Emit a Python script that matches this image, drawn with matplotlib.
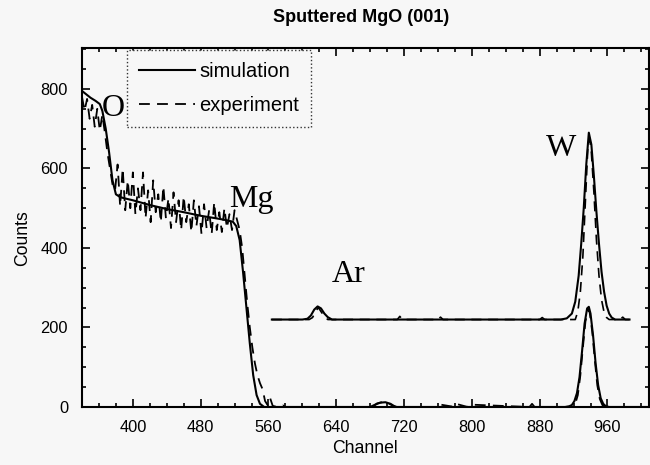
import matplotlib
matplotlib.use("Agg")
import matplotlib.pyplot as plt
from matplotlib.ticker import MultipleLocator

# ---------------- data ----------------
sim_ch = [340, 350, 356, 361, 364, 368, 372, 376, 380, 385, 390, 400, 420, 440, 460,
          480, 500, 510, 518, 522, 526, 530, 534, 538, 542, 546, 550, 555,
          600, 680, 686, 692, 698, 704, 710, 760, 910, 915, 918, 921, 924, 927,
          930, 933, 936, 938, 940, 943, 946, 949, 952, 955, 958, 962, 1009]
sim_counts = [795, 778, 770, 762, 745, 700, 640, 570, 535, 528, 525, 520, 508, 498, 490,
              481, 474, 470, 466, 455, 420, 340, 250, 160, 80, 30, 8, 0,
              0, 0, 6, 11, 12, 8, 0, 0, 0, 2, 5, 15, 35, 75,
              140, 210, 248, 252, 235, 180, 110, 55, 22, 8, 2, 0, 0]

exp_ch = [340, 343, 346, 349, 352, 355, 358, 361, 364, 367, 370, 373, 376, 379, 382,
          385, 388, 391, 394, 397, 400, 403, 406, 409, 412, 415, 418, 421, 424, 427,
          430, 433, 436, 439, 442, 445, 448, 451, 454, 457, 460, 463, 466, 469, 472,
          475, 478, 481, 484, 487, 490, 493, 496, 499, 502, 505, 508, 511, 514, 517,
          520, 523, 526, 529, 532, 535, 538, 541, 544, 547, 550, 553, 556, 559, 562,
          565, 570, 577, 580, 640, 683, 688, 694, 700, 707, 712, 760, 763, 780, 783,
          795, 798, 868, 871, 874, 915, 919, 922, 925, 928, 931, 934, 937, 939, 942,
          945, 948, 951, 954, 957, 1009]
exp_counts = [780, 745, 775, 725, 760, 705, 750, 695, 735, 690, 640, 600, 560, 545, 610,
              505, 600, 495, 570, 500, 590, 485, 550, 495, 590, 475, 545, 465, 570, 490,
              535, 465, 555, 475, 525, 450, 540, 465, 520, 445, 530, 465, 510, 440, 520,
              455, 505, 435, 510, 450, 495, 435, 515, 445, 490, 440, 500, 450, 485, 445,
              495, 470, 445, 400, 330, 260, 200, 150, 110, 80, 60, 45, 15, 5, 22,
              3, 0, 4, 0, 0, 0, 9, 12, 11, 3, 0, 0, 6, 0, 7,
              0, 6, 0, 8, 0, 0, 0, 8, 30, 80, 150, 215, 245, 238, 190,
              120, 55, 20, 5, 0, 0]

# offset (inset) spectrum, counts above its own baseline
ins_sim_ch = [564, 600, 606, 610, 614, 618, 622, 626, 630, 635, 905, 912, 918, 922,
              926, 929, 932, 935, 938, 941, 944, 947, 950, 953, 956, 959, 962, 965,
              969, 986]
ins_sim_counts = [0, 0, 2, 10, 25, 33, 28, 15, 6, 0, 0, 3, 15, 45,
                  110, 190, 280, 390, 470, 440, 360, 270, 190, 120, 70, 35, 15, 5,
                  0, 0]
ins_exp_ch = [564, 608, 612, 616, 619, 622, 626, 630, 700, 712, 715, 718, 760, 763,
              766, 880, 883, 886, 922, 925, 928, 931, 934, 937, 939, 941, 944, 947,
              950, 953, 956, 959, 962, 975, 978, 981, 986]
ins_exp_counts = [0, 0, 5, 22, 30, 20, 8, 0, 0, 0, 8, 0, 0, 6,
                  0, 0, 5, 0, 0, 20, 70, 160, 300, 440, 455, 420, 320, 200,
                  110, 50, 18, 5, 0, 0, 6, 0, 0]
ins_baseline = 220

x_ticks = [400, 480, 560, 640, 720, 800, 880, 960]
y_ticks = [0, 200, 400, 600, 800]
peak_labels = ["O", "Mg", "Ar", "W"]
peak_label_pos = [(377, 752), (540, 522), (655, 333), (905, 650)]

# ---------------- figure ----------------
bg = "#f7f7f7"
fig = plt.figure(figsize=(6.5, 4.65), dpi=100, facecolor=bg)
ax = fig.add_axes([82 / 650, 1 - 407 / 465, 567 / 650, 359 / 465], facecolor=bg)

sans = "Liberation Sans"
serif = "Liberation Serif"
dash = (6, 4)

ax.plot(sim_ch, sim_counts, color="black", lw=1.5, label="simulation")
ax.plot(exp_ch, exp_counts, color="black", lw=1.3, ls=(0, dash), label="experiment")

ax.plot(ins_sim_ch, [c + ins_baseline for c in ins_sim_counts], color="black", lw=1.5)
ax.plot(ins_exp_ch, [c + ins_baseline for c in ins_exp_counts], color="black", lw=1.2,
        ls=(0, dash))

for lab, (px, py) in zip(peak_labels, peak_label_pos):
    ax.text(px, py, lab, fontsize=23, family=serif, ha="center", va="center")

ax.set_xlim(340, 1009)
ax.set_ylim(0, 903)
ax.set_xticks(x_ticks)
ax.set_yticks(y_ticks)
ax.xaxis.set_minor_locator(MultipleLocator(20))
ax.yaxis.set_minor_locator(MultipleLocator(50))
ax.tick_params(which="both", direction="in", top=True, right=True, width=1.2)
ax.tick_params(which="major", length=6, labelsize=11.8)
ax.tick_params(axis="x", which="major", pad=9)
ax.tick_params(axis="y", which="major", pad=10)
ax.tick_params(which="minor", length=3)
for lbl in ax.get_xticklabels() + ax.get_yticklabels():
    lbl.set_family(sans)
for s in ax.spines.values():
    s.set_linewidth(1.5)

fig.text(361 / 650, 1 - 18 / 465, "Sputtered MgO (001)", ha="center", va="center",
         fontsize=13, fontweight="bold", family=sans)
fig.text(365 / 650, 1 - 448 / 465, "Channel", ha="center", va="center",
         fontsize=12.7, family=sans)
fig.text(23 / 650, 1 - 238 / 465, "Counts", ha="center", va="center",
         fontsize=12.7, family=sans, rotation=90)

leg = ax.legend(loc="upper left", bbox_to_anchor=(45 / 567, 1 - 2 / 359),
                prop={"family": sans, "size": 14.5},
                handlelength=2.8, handletextpad=0.2, borderpad=0.6,
                labelspacing=0.75, borderaxespad=0.0, fancybox=False, framealpha=1)
frame = leg.get_frame()
frame.set_facecolor(bg)
frame.set_edgecolor("#333333")
frame.set_linestyle(":")
frame.set_linewidth(1.0)

fig.savefig("out.png", dpi=100, facecolor=bg)
